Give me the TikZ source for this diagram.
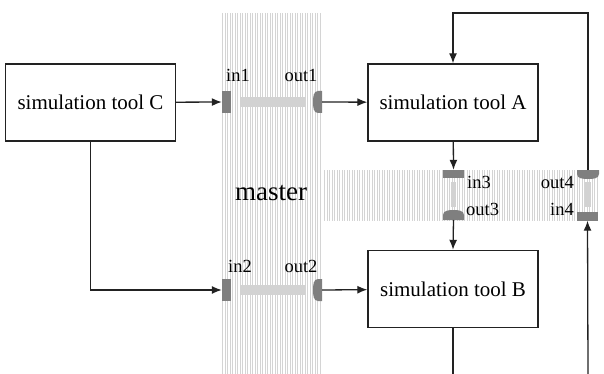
\documentclass[tikz,border=0pt]{standalone}
\usepackage{fontspec}
\setmainfont{Liberation Serif}
\usepackage{tikz}
\usepackage{xcolor}
\usetikzlibrary{positioning, arrows.meta}

\definecolor{portgray}{HTML}{7F7F7F}
\definecolor{bargray}{HTML}{D2D2D2}
\definecolor{stripegray}{HTML}{D4D4D4}
\definecolor{linegray}{HTML}{222222}

\begin{document}
\begin{tikzpicture}[
            x=1pt, y=-1pt,
            tool/.style={rectangle, draw=linegray, line width=1.4pt, minimum width=170pt, minimum height=77pt, font=\fontsize{21}{24}\selectfont},
            port/.style={fill=portgray, draw=none, inner sep=0pt},
            portname/.style={anchor=base, inner sep=0pt, font=\fontsize{18.5}{20}\selectfont},
            stripe/.style={stripegray, line width=0.9pt},
            link/.style={draw=linegray, line width=1.3pt, -{Latex[length=10pt, width=8pt]}},
        ]
            \useasboundingbox (0,0) rectangle (604,374);

            % master: striped bands
            \foreach \x in {222.5,225,...,322}
                \draw[stripe] (\x,13) -- (\x,374);
            \foreach \x in {324.5,327,...,598}
                \draw[stripe] (\x,170) -- (\x,221);
            \node[anchor=base, inner sep=0pt, font=\fontsize{27}{30}\selectfont] (master) at (271,200) {master};

            % simulation tools
            \node[tool] (C) at (90.5,102.5) {simulation tool C};
            \node[tool] (A) at (453,102.5) {simulation tool A};
            \node[tool] (B) at (453,289) {simulation tool B};

            % ports on the master
            \node[port, minimum width=9pt, minimum height=22pt] (in1) at (226.5,102) {};
            \node[port, minimum width=9pt, minimum height=22pt] (in2) at (226.5,290) {};
            \node[port, minimum width=21pt, minimum height=8pt] (in3) at (453.5,174) {};
            \node[port, minimum width=21pt, minimum height=9pt] (in4) at (587.5,216) {};
            \fill[portgray] (322,91) -- (318,91) to[out=180, in=90] (313,102) to[out=-90, in=180] (318,113) -- (322,113) -- cycle;
            \fill[portgray] (322,279) -- (318,279) to[out=180, in=90] (313,290) to[out=-90, in=180] (318,301) -- (322,301) -- cycle;
            \fill[portgray] (443,220) -- (443,215) to[out=90, in=180] (453.5,210) to[out=0, in=90] (464,215) -- (464,220) -- cycle;
            \fill[portgray] (577,170) -- (577,174) to[out=-90, in=180] (588,179) to[out=0, in=-90] (599,174) -- (599,170) -- cycle;
            \coordinate (out1) at (322,102);
            \coordinate (out2) at (322,290);
            \coordinate (out3) at (453.5,220);
            \coordinate (out4) at (588,170);

            % internal transfer bars
            \fill[bargray] (240,97) rectangle (305,107);
            \fill[bargray] (240,285) rectangle (305,295);
            \fill[bargray] (451,182) rectangle (456,207);
            \fill[bargray] (585,182) rectangle (591,207);

            % port names
            \node[portname] (in1name) at (238,82) {in1};
            \node[portname] (out1name) at (301,82) {out1};
            \node[portname] (in2name) at (240,272) {in2};
            \node[portname] (out2name) at (301,272) {out2};
            \node[portname, anchor=base west] (in3name) at (467,188) {in3};
            \node[portname, anchor=base west] (out3name) at (466,215) {out3};
            \node[portname, anchor=base east] (out4name) at (574,188) {out4};
            \node[portname, anchor=base east] (in4name) at (574,215) {in4};

            % connections
            \coordinate (loop) at (588,13);
            \coordinate (bottomB) at (453,374);
            \coordinate (bottomfeed) at (588,374);
            \draw[link] (C) -- (in1);
            \draw[link] (C.south) |- (in2.west);
            \draw[link] (out1) -- (A);
            \draw[link] (out2) -- (B);
            \draw[link] (A) -- (in3.north);
            \draw[link] (out3) -- (B.north);
            \draw[link] (out4) -- (loop) -| (A.north);
            \draw[draw=linegray, line width=1.3pt] (B.south) -- (bottomB);
            \draw[link] (bottomfeed) -- (in4.south);
        \end{tikzpicture}
\end{document}
